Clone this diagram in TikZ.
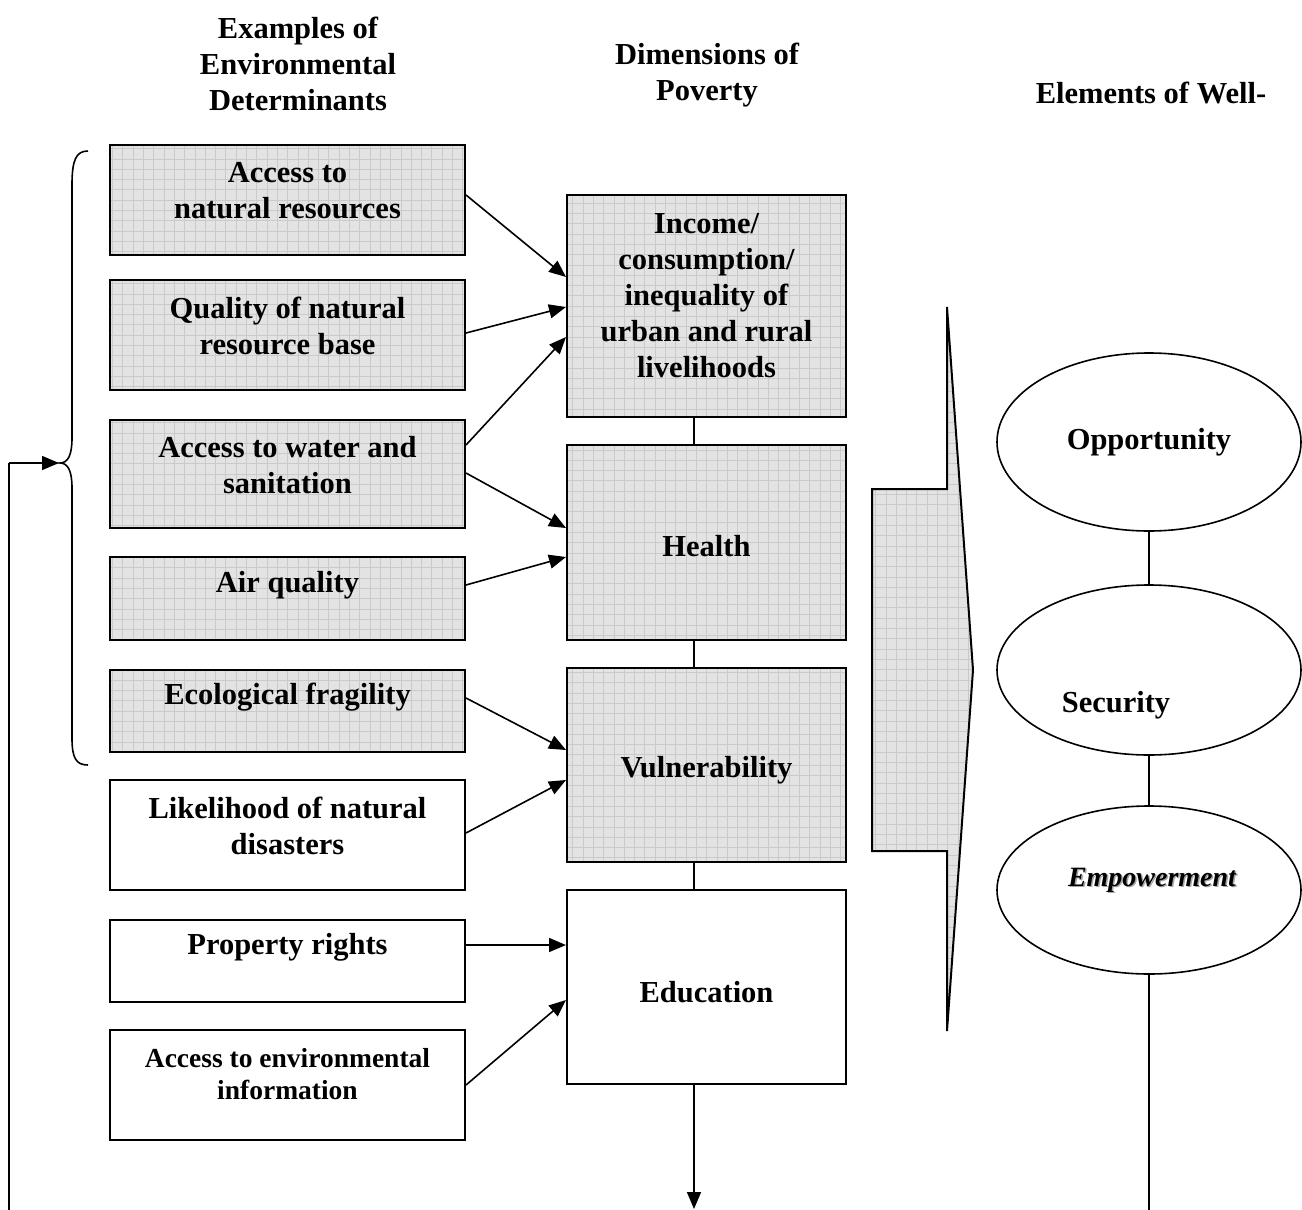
\documentclass[tikz,border=0pt]{standalone}
\usepackage{fontspec}
\setmainfont{Liberation Serif}
\usetikzlibrary{arrows.meta,shapes.geometric}
\definecolor{gfill}{RGB}{227,227,227}
\definecolor{gline}{RGB}{202,202,202}
\tikzset{
  gridfill/.style={fill=gfill, path picture={\draw[gline, line width=0.55pt, step=10.3pt] (path picture bounding box.south west) grid (path picture bounding box.north east);}},
  box/.style={draw, line width=2pt, rectangle, inner sep=0pt},
  lbox/.style={box, minimum width=355pt},
  mbox/.style={box, minimum width=279pt},
  txt/.style={font=\fontsize{30.5}{36}\selectfont\bfseries, align=center, inner sep=0pt},
  stxt/.style={font=\fontsize{27.5}{32}\selectfont\bfseries, align=center, inner sep=0pt},
  conn/.style={line width=1.6pt},
  arr/.style={line width=1.6pt, -{Triangle[length=17pt,width=14pt]}},
  ell/.style={draw, ellipse, line width=1.6pt, minimum width=304pt, inner sep=0pt},
}
\begin{document}
\begin{tikzpicture}[x=1pt,y=-1pt]
\useasboundingbox (0,0) rectangle (1302,1210);

% headers
\node[txt] (h1) at (298,64) {Examples of\\Environmental\\Determinants};
\node[txt] (h2) at (707,75) {Dimensions of\\Poverty};
\node[txt] (h3) at (1151,93) {Elements of Well-};

% left boxes
\node[lbox, gridfill, minimum height=110pt] (a1) at (287.5,200) {};
\node[txt] (t1) at (287.5,191) {Access to\\natural resources};
\node[lbox, gridfill, minimum height=110pt] (a2) at (287.5,335) {};
\node[txt] (t2) at (287.5,326) {Quality of natural\\resource base};
\node[lbox, gridfill, minimum height=108pt] (a3) at (287.5,474) {};
\node[txt] (t3) at (287.5,465) {Access to water and\\sanitation};
\node[lbox, gridfill, minimum height=83pt] (a4) at (287.5,598.5) {};
\node[txt] (t4) at (287.5,585) {Air quality};
\node[lbox, gridfill, minimum height=82pt] (a5) at (287.5,711) {};
\node[txt] (t5) at (287.5,697) {Ecological fragility};
\node[lbox, fill=white, minimum height=110pt] (a6) at (287.5,835) {};
\node[txt] (t6) at (287.5,826) {Likelihood of natural\\disasters};
\node[lbox, fill=white, minimum height=82pt] (a7) at (287.5,961) {};
\node[txt] (t7) at (287.5,947) {Property rights};
\node[lbox, fill=white, minimum height=110pt] (a8) at (287.5,1085) {};
\node[stxt] (t8) at (287.5,1074) {Access to environmental\\information};

% middle boxes
\node[mbox, gridfill, minimum height=222pt] (inc) at (706.5,306) {};
\node[txt] (ti) at (706.5,296) {Income/\\consumption/\\inequality of\\urban and rural\\livelihoods};
\node[mbox, gridfill, minimum height=195pt] (hea) at (706.5,542.5) {};
\node[txt] (th) at (706.5,546) {Health};
\node[mbox, gridfill, minimum height=194pt] (vul) at (706.5,765) {};
\node[txt] (tv) at (706.5,770) {Vulnerability};
\node[mbox, fill=white, minimum height=194pt] (edu) at (706.5,987) {};
\node[txt] (te) at (706.5,992) {Education};

% vertical connectors between middle boxes
\draw[conn, line width=2pt] ([xshift=-12.5pt]inc.south) -- ([xshift=-12.5pt]hea.north);
\draw[conn, line width=2pt] ([xshift=-12.5pt]hea.south) -- ([xshift=-12.5pt]vul.north);
\draw[conn, line width=2pt] ([xshift=-12.5pt]vul.south) -- ([xshift=-12.5pt]edu.north);
\coordinate (bot) at (694,1209);
\draw[arr] ([xshift=-12.5pt]edu.south) -- (bot);

% arrows left -> middle
\draw[arr] ([yshift=5pt]a1.east) -- ([yshift=29pt]inc.west);
\draw[arr] ([yshift=2pt]a2.east) -- ([yshift=-1pt]inc.west);
\draw[arr] ([yshift=29pt]a3.east) -- ([yshift=-31pt]inc.west);
\draw[arr] ([yshift=1pt]a3.east) -- ([yshift=14.5pt]hea.west);
\draw[arr] ([yshift=13.5pt]a4.east) -- ([yshift=-14.5pt]hea.west);
\draw[arr] ([yshift=13pt]a5.east) -- ([yshift=15pt]vul.west);
\draw[arr] ([yshift=2pt]a6.east) -- ([yshift=-15pt]vul.west);
\draw[arr] ([yshift=16pt]a7.east) -- ([yshift=42pt]edu.west);
\draw[arr] (a8.east) -- ([yshift=-13pt]edu.west);

% brace
\draw[line width=1.6pt] (88,151) .. controls (76,151) and (72,160) .. (72,185) -- (72,438)
  .. controls (72,455) and (68,463) .. (60,463)
  .. controls (68,463) and (72,471) .. (72,488) -- (72,738)
  .. controls (72,758) and (76,765) .. (88,765);
\coordinate (fb0) at (9,1210);
\coordinate (fb1) at (9,463);
\coordinate (btip) at (59,463);
\draw[line width=1.6pt] (fb0) -- (fb1);
\draw[arr] (fb1) -- (btip);

% big arrow
\draw[gridfill, line width=2pt, line join=miter] (947,307) -- (947,489) -- (872,489) -- (872,851) -- (947,851) -- (947,1031) -- (973,670) -- cycle;

% ellipses
\node[ell, minimum height=178pt, txt] (opp) at (1149,442) {Opportunity};
\node[ell, minimum height=170pt] (sec) at (1149,670) {};
\node[txt] (ts) at (1116,705) {Security};
\node[ell, minimum height=168pt] (emp) at (1149,890) {};
\node[font=\fontsize{28}{32}\selectfont\bfseries\itshape, text=black!35, inner sep=0pt] (tes) at (1153.5,881.5) {Empowerment};
\node[font=\fontsize{28}{32}\selectfont\bfseries\itshape, inner sep=0pt] (tem) at (1152,880) {Empowerment};
\coordinate (ebot) at (1149,1210);
\draw[conn] (opp.south) -- (sec.north);
\draw[conn] (sec.south) -- (emp.north);
\draw[conn] (emp.south) -- (ebot);
\end{tikzpicture}
\end{document}
